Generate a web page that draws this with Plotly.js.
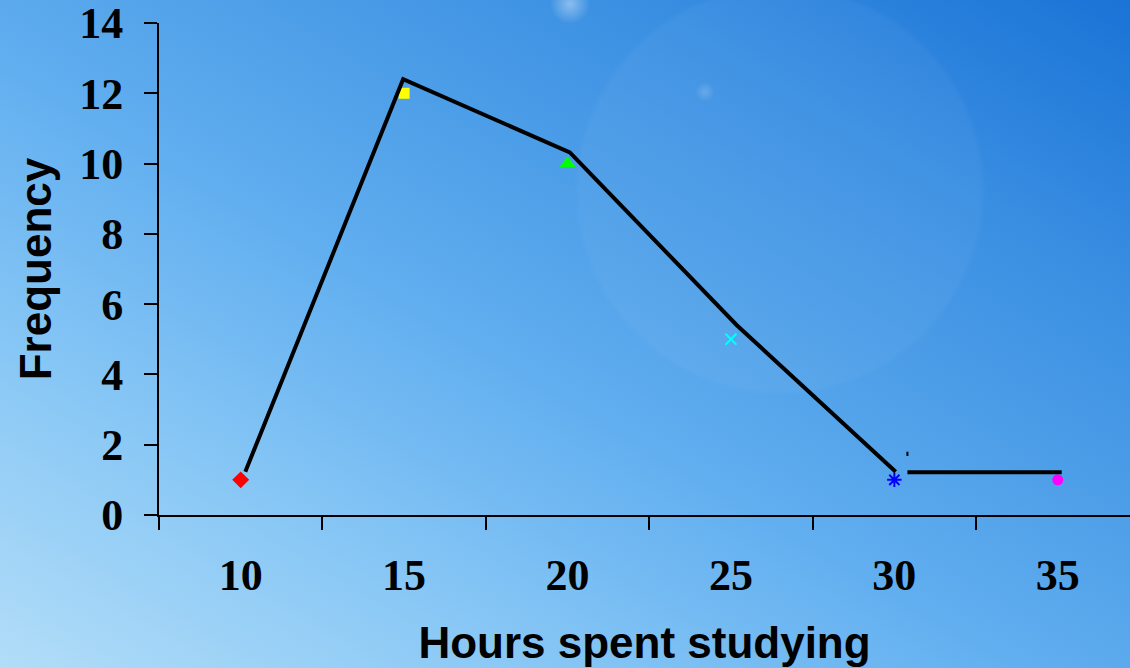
<!DOCTYPE html>
<html>
<head>
<meta charset="utf-8">
<script src="https://cdn.plot.ly/plotly-3.0.1.min.js"></script>
<style>
  html, body { margin: 0; padding: 0; }
  body {
    width: 1130px; height: 668px; overflow: hidden;
    background:
      radial-gradient(circle at 570px 4px, rgba(255,255,255,0.40) 0px, rgba(255,255,255,0.0) 20px),
      radial-gradient(circle at 705px 92px, rgba(255,255,255,0.18) 0px, rgba(255,255,255,0.0) 10px),
      radial-gradient(circle at 780px 190px, rgba(255,255,255,0.035) 0px, rgba(255,255,255,0.035) 200px, rgba(255,255,255,0.0) 206px),
      linear-gradient(to top right, #b2ddf8 0%, #86c6f5 25%, #62aff0 45%, #4d9ee8 62%, #3a8fe2 78%, #1a73d6 100%);
  }
  #chart { width: 1130px; height: 668px; }
</style>
</head>
<body>
<div id="chart"></div>
<script>
// Category values (hours) and frequencies
const hours = [10, 15, 20, 25, 30, 35];
const frequency = [1, 12, 10, 5, 1, 1];
const markerSymbols = ['diamond', 'square', 'triangle-up', 'x-thin', 'asterisk', 'circle'];
const markerColors = ['#ff0000', '#ffff00', '#00ff00', '#00ffff', '#0000ff', '#ff00ff'];

// Hand-drawn frequency polygon line
const lineX = [10.14, 14.97, 20.07, 25.18, 30.04, null, 30.40, 35.12];
const lineY = [1.23, 12.40, 10.32, 5.40, 1.23, null, 1.22, 1.22];
// small stray dash
const dashX = [30.40, 30.40];
const dashY = [1.68, 1.80];

// Axis tick values
const yTicks = [0, 2, 4, 6, 8, 10, 12, 14];
const xBoundaries = [7.5, 12.5, 17.5, 22.5, 27.5, 32.5];
const xLabels = ['10', '15', '20', '25', '30', '35'];

const traces = [];
for (let i = 0; i < hours.length; i++) {
  const sym = markerSymbols[i];
  const isLineSym = (sym === 'x-thin' || sym === 'asterisk');
  const sizes = {diamond: 13, square: 11, 'triangle-up': 14, 'x-thin': 11, asterisk: 12, circle: 11};
  traces.push({
    type: 'scatter', mode: 'markers',
    x: [hours[i]], y: [frequency[i]],
    marker: {
      symbol: sym, size: sizes[sym], color: markerColors[i],
      line: isLineSym ? {color: markerColors[i], width: 2} : {width: 0}
    },
    showlegend: false, hoverinfo: 'x+y', cliponaxis: false
  });
}
traces.push({
  type: 'scatter', mode: 'lines', x: lineX, y: lineY,
  line: {color: '#000000', width: 4}, connectgaps: false,
  showlegend: false, hoverinfo: 'skip', cliponaxis: false
});
traces.push({
  type: 'scatter', mode: 'lines', x: dashX, y: dashY,
  line: {color: '#000000', width: 2},
  showlegend: false, hoverinfo: 'skip'
});
// invisible trace to activate the label axis
traces.push({
  type: 'scatter', mode: 'markers', x: hours, y: frequency, xaxis: 'x2',
  marker: {opacity: 0}, showlegend: false, hoverinfo: 'skip'
});

const xRange = [7.5, 37.21];
const tickFont = {family: '"Liberation Serif", "Times New Roman", serif', size: 44, color: '#000000', weight: 'bold'};
const titleFont = {family: '"Liberation Sans", Arial, sans-serif', size: 44, color: '#000000', weight: 'bold'};

const layout = {
  width: 1130, height: 668,
  margin: {l: 159, r: 0, t: 23, b: 153, pad: 0},
  paper_bgcolor: 'rgba(0,0,0,0)',
  plot_bgcolor: 'rgba(0,0,0,0)',
  showlegend: false,
  xaxis: {
    range: xRange, showgrid: false, zeroline: false,
    showline: true, linecolor: '#000000', linewidth: 2,
    tickmode: 'array', tickvals: xBoundaries, ticktext: xBoundaries.map(() => ''),
    ticks: 'outside', ticklen: 13, tickwidth: 2, tickcolor: '#000000',
    title: {text: 'Hours spent studying', font: titleFont, standoff: 96},
    fixedrange: true
  },
  xaxis2: {
    overlaying: 'x', anchor: 'y', side: 'bottom', range: xRange,
    showgrid: false, zeroline: false, showline: false,
    tickmode: 'array', tickvals: hours, ticktext: xLabels,
    ticks: '', tickfont: tickFont, ticklabelstandoff: 30,
    ticklabeloverflow: 'allow',
    fixedrange: true
  },
  yaxis: {
    range: [0, 14], showgrid: false, zeroline: false,
    showline: true, linecolor: '#000000', linewidth: 2,
    tickmode: 'array', tickvals: yTicks,
    ticks: 'outside', ticklen: 13, tickwidth: 2, tickcolor: '#000000',
    tickfont: tickFont, ticklabelstandoff: 12,
    ticklabeloverflow: 'allow',
    title: {text: 'Frequency', font: titleFont, standoff: 14},
    fixedrange: true
  }
};

Plotly.newPlot('chart', traces, layout, {displayModeBar: false, staticPlot: true});
</script>
</body>
</html>
